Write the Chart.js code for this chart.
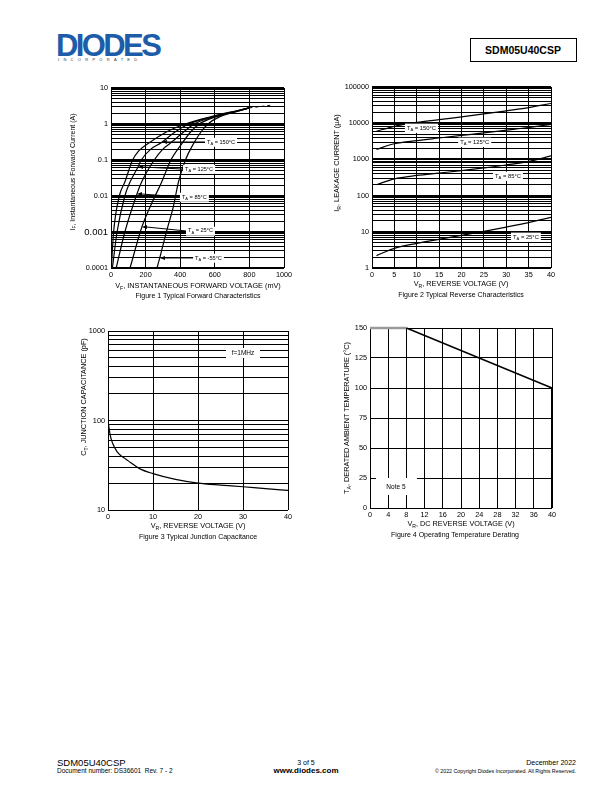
<!DOCTYPE html>
<html>
<head>
<meta charset="utf-8">
<script src="https://cdn.jsdelivr.net/npm/chart.js@4.4.0/dist/chart.umd.min.js"></script>
<style>
  body { margin: 0; width: 612px; height: 792px; background: #fff; position: relative; overflow: hidden;
         font-family: 'Liberation Sans', Arial, sans-serif; color: #000; }
  canvas { position: absolute; }
  .t { position: absolute; white-space: nowrap; line-height: 1; }
  .c { transform: translateX(-50%); }
  .r { transform: translateX(-100%); }
  .v { transform: translate(-50%, -50%) rotate(-90deg); }
  sub { font-size: 70%; vertical-align: -0.3em; line-height: 0; }
</style>
</head>
<body>

<!-- Kopfzeile -->
<div class="t" style="left:56px;top:30px;font-weight:bold;font-size:31px;color:#1d5ca8;letter-spacing:-2.6px;">DIODES</div>
<div class="t" style="left:58px;top:58px;font-size:4px;letter-spacing:4.3px;color:#333;">INCORPORATED</div>
<div style="position:absolute;left:470px;top:38px;width:105px;height:22px;border:1.3px solid #000;"></div>
<div class="t c" style="left:523px;top:45px;font-weight:bold;font-size:10.5px;">SDM05U40CSP</div>

<canvas id="fwdChart"></canvas>
<canvas id="revChart"></canvas>
<canvas id="capChart"></canvas>
<canvas id="deratingChart"></canvas>

<!-- Achsentitel und Bildunterschriften -->
<div class="t v" style="left:72px;top:172px;font-size:7px;">I<sub>F</sub>, Instantaneous Forward Current (A)</div>
<div class="t c" style="left:198px;top:282px;font-size:7.3px;">V<sub>F</sub>, INSTANTANEOUS FORWARD VOLTAGE (mV)</div>
<div class="t c" style="left:198px;top:292px;font-size:7px;">Figure 1 Typical Forward Characteristics</div>

<div class="t v" style="left:337px;top:163px;font-size:7.3px;">I<sub>R</sub>, LEAKAGE CURRENT (µA)</div>
<div class="t c" style="left:461px;top:280px;font-size:7.3px;">V<sub>R</sub>, REVERSE VOLTAGE (V)</div>
<div class="t c" style="left:461px;top:291px;font-size:7px;">Figure 2 Typical Reverse Characteristics</div>

<div class="t v" style="left:84px;top:397px;font-size:7.3px;">C<sub>T</sub>, JUNCTION CAPACITANCE (pF)</div>
<div class="t c" style="left:198px;top:522px;font-size:7.3px;">V<sub>R</sub>, REVERSE VOLTAGE (V)</div>
<div class="t c" style="left:198px;top:533px;font-size:7px;">Figure 3 Typical Junction Capacitance</div>

<div class="t v" style="left:347px;top:418px;font-size:7.3px;">T<sub>A</sub>, DERATED AMBIENT TEMPERATURE (°C)</div>
<div class="t c" style="left:461px;top:520px;font-size:7.3px;">V<sub>R</sub>, DC REVERSE VOLTAGE (V)</div>
<div class="t c" style="left:455px;top:531px;font-size:7px;">Figure 4 Operating Temperature Derating</div>

<!-- Fusszeile -->
<div class="t" style="left:57px;top:758px;font-size:9.5px;">SDM05U40CSP</div>
<div class="t" style="left:57px;top:768px;font-size:6.5px;">Document number: DS36601&nbsp; Rev. 7 - 2</div>
<div class="t c" style="left:306px;top:759px;font-size:7px;">3 of 5</div>
<div class="t c" style="left:306px;top:767px;font-size:8px;font-weight:bold;">www.diodes.com</div>
<div class="t r" style="left:576px;top:759px;font-size:7px;">December 2022</div>
<div class="t r" style="left:576px;top:769px;font-size:5.3px;">© 2022 Copyright Diodes Incorporated. All Rights Reserved.</div>

<script>
const FONT = "'Liberation Sans', Arial, sans-serif";

// Figure 1 - Durchlasskennlinien (mV / A)
const fwdV150 = [2, 15, 48, 80, 125, 160, 221, 320, 430, 580, 720, 800];
const fwdI150 = [1e-4, 1e-3, 0.01, 0.0245, 0.1, 0.18, 0.3, 0.6, 1.0, 1.6, 2.3, 2.8];
const fwdV125 = [8, 35, 80, 110, 156, 175, 230, 290, 370, 450, 590, 725, 800];
const fwdI125 = [1e-4, 1e-3, 0.01, 0.0245, 0.064, 0.1, 0.2, 0.3, 0.6, 1.0, 1.6, 2.3, 2.8];
const fwdV85 = [30, 80, 150, 177, 250, 300, 346, 420, 480, 600, 730, 800];
const fwdI85 = [1e-4, 1e-3, 0.0114, 0.0245, 0.1, 0.2, 0.3, 0.6, 1.0, 1.6, 2.3, 2.8];
const fwdV25 = [110, 179, 240, 293, 346, 413, 460, 510, 610, 735, 800];
const fwdI25 = [1e-4, 0.0014, 0.007, 0.0245, 0.1, 0.3, 0.6, 1.0, 1.6, 2.3, 2.8];
const fwdVm55 = [266, 283, 320, 360, 390, 430, 480, 520, 560, 630, 740, 800];
const fwdIm55 = [1e-4, 2e-4, 0.001, 0.005, 0.0245, 0.1, 0.3, 0.6, 1.0, 1.6, 2.3, 2.8];
const fwdTailV = [800, 920];
const fwdTailI = [2.8, 3.3];
const fwdYTicks = [10, 1, 0.1, 0.01, 0.001, 0.0001];
const fwdYLabels = ['10', '1', '0.1', '0.01', '0.001', '0.0001'];

// Figure 2 - Sperrstrom (V / µA)
const revV = [1, 5, 10, 15, 20, 25, 30, 35, 40];
const leak150 = [6000, 8200, 10500, 12500, 15000, 18000, 22000, 27000, 35000];
const leak125 = [1900, 2700, 3300, 3900, 4600, 5400, 6400, 7600, 9300];
const leak85 = [200, 290, 360, 420, 490, 580, 700, 880, 1250];
const leak25 = [2.2, 3.5, 4.8, 6.2, 8, 10.3, 13.5, 18, 25];
const revYTicks = [100000, 10000, 1000, 100, 10, 1];
const revYLabels = ['100000', '10000', '1000', '100', '10', '1'];

// Figure 3 - Sperrschichtkapazitaet (V / pF)
const capV = [0, 0.5, 1, 2, 3, 4, 5, 7, 10, 15, 20, 25, 30, 35, 40];
const capPF = [100, 68, 56, 45, 40, 37, 34, 29, 25.5, 22, 20, 19, 18.2, 17.3, 16.6];
const capYTicks = [1000, 100, 10];
const capYLabels = ['1000', '100', '10'];

// Figure 4 - Temperatur-Derating (V / °C)
const derV = [0, 8, 40, 40];
const derT = [150, 150, 100, 0];

const mantissas = [1, 2, 3, 4, 5, 6, 7, 8, 9];

// Gitterlinien fuer eine log-Achse (1..9 je Dekade)
function logGrid(lowDecade, highDecade) {
    const out = [];
    for (let d = lowDecade; d < highDecade; d *= 10) {
        mantissas.forEach(m => out.push(+(m * d).toPrecision(6)));
    }
    out.push(highDecade);
    return out;
}

const PT = 8, PR = 14, YW = 42, XH = 16;

// Canvas so platzieren, dass die Plotflaeche genau sitzt
function frame(id, left, top, w, h) {
    const c = document.getElementById(id);
    c.width = YW + w + PR;
    c.height = PT + h + XH;
    c.style.left = (left - YW) + 'px';
    c.style.top = (top - PT) + 'px';
    c.style.width = c.width + 'px';
    c.style.height = c.height + 'px';
    return c;
}

function pts(xs, ys) {
    return xs.map((x, i) => ({ x: x, y: ys[i] }));
}

function line(xs, ys, extra) {
    return Object.assign({
        data: pts(xs, ys), showLine: true, borderColor: '#000', borderWidth: 1.2,
        pointRadius: 0, cubicInterpolationMode: 'monotone', fill: false
    }, extra || {});
}

function linAxis(min, max, step) {
    return {
        type: 'linear', min: min, max: max,
        ticks: { stepSize: step, padding: 3, color: '#000', autoSkip: false, maxRotation: 0,
                 font: { size: 7.3, family: FONT }, callback: v => String(v) },
        grid: { color: '#000', lineWidth: 1, drawTicks: false },
        border: { display: false }
    };
}

function logAxis(min, max, tickVals, tickLabels, thickDecades, fontFn) {
    const grid = logGrid(min, max);
    return {
        type: 'logarithmic', min: min, max: max,
        afterBuildTicks: s => { s.ticks = grid.map(v => ({ value: v })); },
        afterFit: s => { s.width = YW; },
        ticks: {
            autoSkip: false, padding: 3, color: '#000',
            font: fontFn || { size: 7.3, family: FONT },
            callback: v => { const i = tickVals.indexOf(v); return i >= 0 ? tickLabels[i] : ''; }
        },
        grid: {
            color: '#000', drawTicks: false,
            lineWidth: ctx => (thickDecades && ctx.tick && tickVals.indexOf(ctx.tick.value) >= 0) ? 2 : 1
        },
        border: { display: false }
    };
}

function baseOptions(xAxis, yAxis) {
    xAxis.afterFit = s => { s.height = XH; };
    if (!yAxis.afterFit) yAxis.afterFit = s => { s.width = YW; };
    return {
        responsive: false, animation: false, devicePixelRatio: 1, events: [],
        layout: { padding: { top: PT, right: PR, left: 0, bottom: 0 } },
        plugins: { legend: { display: false }, tooltip: { enabled: false } },
        scales: { x: xAxis, y: yAxis }
    };
}

// Beschriftung T_A = xx°C mit weissem Hintergrund
function drawTA(ctx, x, y, temp, size) {
    const sub = size * 0.72;
    ctx.font = size + 'px ' + FONT;
    const w1 = ctx.measureText('T').width;
    const rest = ' = ' + temp + '°C';
    const w3 = ctx.measureText(rest).width;
    ctx.font = sub + 'px ' + FONT;
    const w2 = ctx.measureText('A').width;
    ctx.fillStyle = '#fff';
    ctx.fillRect(x - 2, y - size * 0.75, w1 + w2 + w3 + 4, size * 1.6);
    ctx.fillStyle = '#000';
    ctx.textBaseline = 'middle';
    ctx.textAlign = 'left';
    ctx.font = size + 'px ' + FONT;
    ctx.fillText('T', x, y);
    ctx.font = sub + 'px ' + FONT;
    ctx.fillText('A', x + w1, y + size * 0.35);
    ctx.font = size + 'px ' + FONT;
    ctx.fillText(rest, x + w1 + w2, y);
}

function drawArrow(ctx, x1, y1, x2, y2) {
    ctx.strokeStyle = '#000';
    ctx.lineWidth = 1;
    ctx.beginPath();
    ctx.moveTo(x1 + 4, y1);
    ctx.lineTo(x2, y2);
    ctx.stroke();
    ctx.fillStyle = '#000';
    ctx.beginPath();
    ctx.moveTo(x1, y1);
    ctx.lineTo(x1 + 5, y1 - 2);
    ctx.lineTo(x1 + 5, y1 + 2);
    ctx.closePath();
    ctx.fill();
}

// Pfeile und Temperaturangaben in Figure 1 (Datenkoordinaten)
const fwdNotes = [
    { temp: '150', tipV: 295, tipI: 0.316, txtV: 555, txtI: 0.316 },
    { temp: '125', tipV: 156, tipI: 0.064, txtV: 428, txtI: 0.056 },
    { temp: '85', tipV: 150, tipI: 0.0114, txtV: 410, txtI: 0.0094 },
    { temp: '25', tipV: 179, tipI: 0.00138, txtV: 445, txtI: 0.00107 },
    { temp: '-55', tipV: 283, tipI: 0.00019, txtV: 486, txtI: 0.00019 }
];
const revNotes = [
    { temp: '150', v: 7.8, i: 7370 },
    { temp: '125', v: 19.7, i: 3020 },
    { temp: '85', v: 27.5, i: 347 },
    { temp: '25', v: 31.5, i: 7.2 }
];

// Chart 1
frame('fwdChart', 111, 88, 173, 180);
const fwdX = linAxis(0, 1000, 200);
const fwdY = logAxis(0.0001, 10, fwdYTicks, fwdYLabels, true,
    ctx => ({ size: (ctx.tick && ctx.tick.value === 0.001) ? 9.5 : 7.3, family: FONT }));
new Chart(document.getElementById('fwdChart'), {
    type: 'scatter',
    data: {
        datasets: [
            line(fwdV150, fwdI150), line(fwdV125, fwdI125), line(fwdV85, fwdI85),
            line(fwdV25, fwdI25), line(fwdVm55, fwdIm55),
            line(fwdTailV, fwdTailI, { borderDash: [3, 3], borderWidth: 1 })
        ]
    },
    options: baseOptions(fwdX, fwdY),
    plugins: [{
        id: 'fwdNotes',
        afterDatasetsDraw(chart) {
            const ctx = chart.ctx, sx = chart.scales.x, sy = chart.scales.y;
            fwdNotes.forEach(n => {
                const tx = sx.getPixelForValue(n.tipV), ty = sy.getPixelForValue(n.tipI);
                const lx = sx.getPixelForValue(n.txtV), ly = sy.getPixelForValue(n.txtI);
                drawArrow(ctx, tx, ty, lx - 2, ly);
                drawTA(ctx, lx, ly, n.temp, 5.6);
            });
        }
    }]
});

// Chart 2
frame('revChart', 372, 87, 179, 181);
new Chart(document.getElementById('revChart'), {
    type: 'scatter',
    data: {
        datasets: [line(revV, leak150), line(revV, leak125), line(revV, leak85), line(revV, leak25)]
    },
    options: baseOptions(linAxis(0, 40, 5), logAxis(1, 100000, revYTicks, revYLabels, true)),
    plugins: [{
        id: 'revNotes',
        afterDatasetsDraw(chart) {
            const ctx = chart.ctx, sx = chart.scales.x, sy = chart.scales.y;
            revNotes.forEach(n => {
                drawTA(ctx, sx.getPixelForValue(n.v), sy.getPixelForValue(n.i), n.temp, 5.8);
            });
        }
    }]
});

// Chart 3
frame('capChart', 108, 331, 180, 179);
new Chart(document.getElementById('capChart'), {
    type: 'scatter',
    data: { datasets: [line(capV, capPF)] },
    options: baseOptions(linAxis(0, 40, 10), logAxis(10, 1000, capYTicks, capYLabels, false)),
    plugins: [{
        id: 'capNote',
        afterDatasetsDraw(chart) {
            const ctx = chart.ctx;
            const x = chart.scales.x.getPixelForValue(30), y = chart.scales.y.getPixelForValue(568);
            ctx.fillStyle = '#fff';
            ctx.fillRect(x - 17, y - 5, 34, 10);
            ctx.fillStyle = '#000';
            ctx.font = '6.5px ' + FONT;
            ctx.textAlign = 'center';
            ctx.textBaseline = 'middle';
            ctx.fillText('f=1MHz', x, y);
        }
    }]
});

// Chart 4
frame('deratingChart', 370, 328, 182, 180);
const derY = linAxis(0, 150, 25);
derY.afterFit = s => { s.width = YW; };
new Chart(document.getElementById('deratingChart'), {
    type: 'scatter',
    data: {
        datasets: [line(derV, derT, {
            cubicInterpolationMode: 'default', tension: 0, borderWidth: 1.5, clip: false,
            segment: {
                borderColor: c => c.p0DataIndex === 0 ? '#9a9a9a' : '#000',
                borderWidth: c => c.p0DataIndex === 0 ? 2.5 : (c.p0DataIndex === 2 ? 2 : 1.5)
            }
        })]
    },
    options: baseOptions(linAxis(0, 40, 4), derY),
    plugins: [{
        id: 'derNote',
        afterDatasetsDraw(chart) {
            const ctx = chart.ctx;
            const x = chart.scales.x.getPixelForValue(5.7), y = chart.scales.y.getPixelForValue(17.5);
            ctx.fillStyle = '#fff';
            ctx.fillRect(x - 20, y - 9, 41, 17);
            ctx.fillStyle = '#000';
            ctx.font = '6.5px ' + FONT;
            ctx.textAlign = 'center';
            ctx.textBaseline = 'middle';
            ctx.fillText('Note 5', x, y);
        }
    }]
});
</script>
</body>
</html>
